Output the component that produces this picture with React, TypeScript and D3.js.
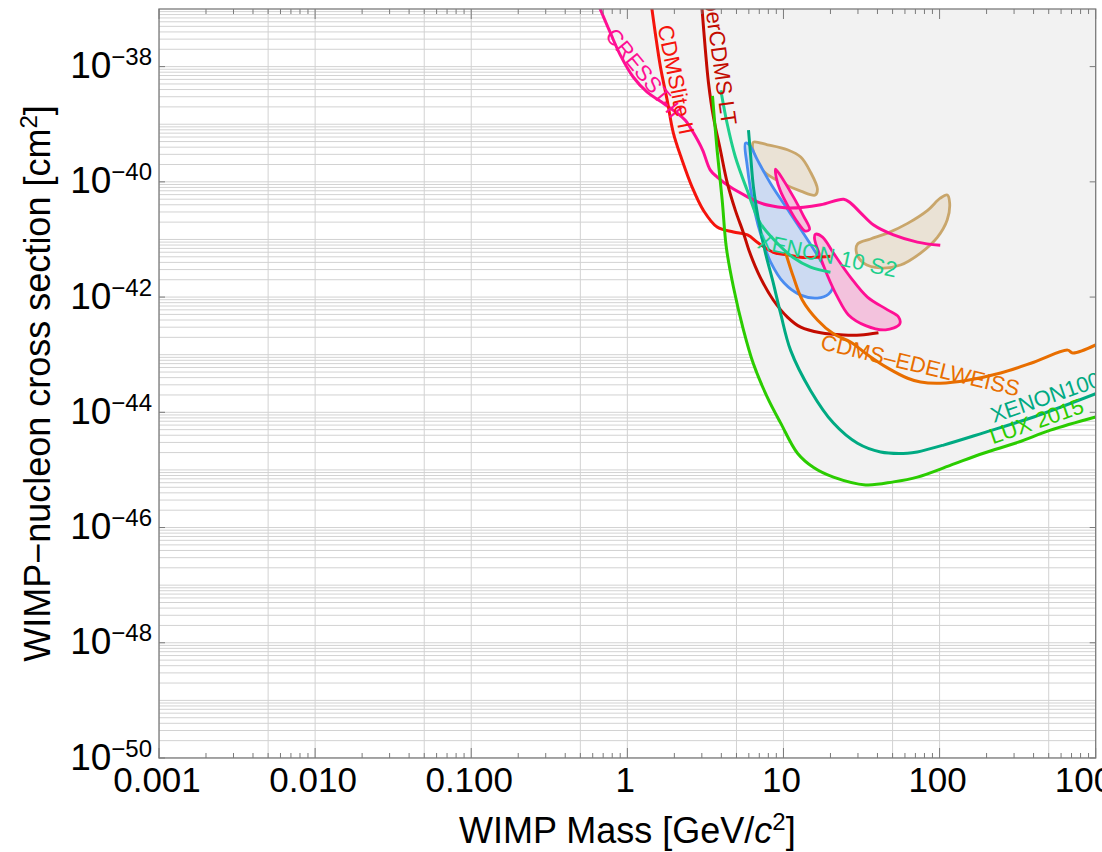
import React from 'react'
import * as d3 from 'd3'

type Pt = [number, number] // [WIMP mass GeV, cross section cm^2]

// exclusion limits
const cresst: Pt[] = [[0.66, 1.1e-37], [0.78, 3.8e-38], [0.9, 1.6e-38], [1.09, 6.6e-39], [1.34, 3.6e-39], [1.63, 2.5e-39], [2.06, 1.6e-39], [2.35, 1.17e-39], [2.65, 7.1e-40], [3.03, 3.6e-40], [3.4, 1.6e-40], [3.78, 1.2e-40], [4.57, 8.1e-41], [5.88, 5.5e-41], [7.1, 4.3e-41], [8.5, 3.8e-41], [11.1, 3.5e-41], [17.3, 4.0e-41], [24.3, 5.0e-41], [26.9, 4.3e-41], [31.2, 2.9e-41], [37.8, 1.78e-41], [50.7, 1.2e-41], [72, 9e-42], [101, 7.9e-42]]
const cdmslite: Pt[] = [[1.43, 1.1e-37], [1.51, 3.8e-38], [1.63, 9.8e-39], [1.8, 2.6e-39], [1.97, 7.1e-40], [2.24, 2.4e-40], [2.6, 8.1e-41], [3.07, 3.2e-41], [3.76, 1.64e-41], [4.78, 1.35e-41], [5.88, 1.2e-41], [6.9, 8.7e-42], [8.6, 6.0e-42], [10.6, 5.4e-42], [12.9, 4.9e-42], [15.6, 4.9e-42], [20, 5.1e-42]]
const superCdms: Pt[] = [[3.0, 1.1e-37], [3.16, 1.95e-38], [3.31, 5.2e-39], [3.56, 1.33e-39], [3.94, 3.6e-40], [4.37, 9.5e-41], [4.92, 3.2e-41], [5.54, 1.3e-41], [6.1, 5.8e-42], [7.1, 2.2e-42], [8.6, 8.9e-43], [10.6, 4.5e-43], [12.9, 3.0e-43], [17.3, 2.4e-43], [24.3, 2.2e-43], [31.2, 2.2e-43], [40.6, 2.4e-43]]
const lux2015: Pt[] = [[3.51, 3.1e-39], [3.76, 3.5e-40], [4.05, 4.8e-41], [4.31, 7.1e-42], [4.78, 1.5e-42], [5.54, 2.7e-43], [6.4, 7.1e-44], [7.9, 1.8e-44], [9.6, 6.5e-45], [12.3, 1.95e-45], [15.6, 1.1e-45], [20.9, 7.5e-46], [33.6, 5.5e-46], [50.7, 6.2e-46], [72, 7.5e-46], [117, 1.2e-45], [191, 1.95e-45], [316, 3.0e-45], [513, 4.9e-45], [1000, 8.3e-45]]
const xenon100: Pt[] = [[5.97, 7.9e-40], [6.14, 3.2e-40], [6.42, 8.1e-41], [6.92, 2.2e-41], [7.67, 5.8e-42], [8.5, 2.0e-42], [9.57, 5.3e-43], [11.1, 1.2e-43], [14.9, 2.4e-44], [20.9, 6.5e-45], [29.8, 2.9e-45], [41.9, 2.05e-45], [62.4, 1.95e-45], [72, 2.05e-45], [106, 2.7e-45], [191, 4.4e-45], [401, 8.3e-45], [1000, 2.1e-44]]
const xenon10: Pt[] = [[3.97, 3.9e-39], [4.35, 1.05e-39], [4.92, 2.7e-40], [5.85, 7.2e-41], [7.12, 1.9e-41], [9.1, 8.7e-42], [11.6, 4.8e-42], [14.9, 3.3e-42], [20, 2.7e-42]]
const cdmsEdelweiss: Pt[] = [[10.3, 6.0e-42], [11.6, 2.2e-42], [13.2, 8.9e-43], [16.5, 4.0e-43], [20.9, 2.3e-43], [26.9, 1.66e-43], [34.5, 1.0e-43], [46.4, 5.9e-44], [62.4, 3.9e-44], [75.5, 3.35e-44], [101, 3.2e-44], [151, 3.6e-44], [246, 4.8e-44], [401, 7.4e-44], [661, 1.2e-43], [713, 1.07e-43], [1000, 1.48e-43]]

// signal regions (closed contours)
const cdmsSi: Pt[] = [[5.71, 4.7e-40], [5.85, 1.95e-40], [6.52, 3.2e-41], [7.33, 9.8e-42], [8.26, 4.1e-42], [10.1, 1.75e-42], [12.9, 1.08e-42], [16.5, 9.6e-43], [19.4, 1.12e-42], [20.9, 1.7e-42], [18.0, 3.6e-42], [14.3, 9.8e-42], [10.9, 3.0e-41], [8.4, 8.7e-41], [6.81, 2.4e-40], [6.05, 4.4e-40]]
const tanLow: Pt[] = [[6.42, 4.9e-40], [7.89, 4.4e-40], [10.6, 3.6e-40], [12.9, 2.7e-40], [14.9, 1.48e-40], [16.5, 7.5e-41], [16.0, 5.9e-41], [12.9, 6.9e-41], [9.86, 9.5e-41], [7.55, 1.48e-40], [6.62, 2.6e-40], [6.33, 4.2e-40]]
const tanHigh: Pt[] = [[29.8, 8.3e-42], [36.1, 1.02e-41], [46.4, 1.29e-41], [62.4, 1.9e-41], [83.8, 3.2e-41], [101, 5.2e-41], [112, 5.9e-41], [116, 4.3e-41], [112, 2.2e-41], [97, 1.1e-41], [75.5, 5.8e-42], [56.2, 3.6e-42], [41.9, 3.2e-42], [32.6, 3.9e-42], [29.4, 5.8e-42]]
const pinkLow: Pt[] = [[8.89, 1.66e-40], [10, 1.07e-40], [11.8, 5.0e-41], [13.4, 2.6e-41], [14.7, 1.5e-41], [13.8, 1.4e-41], [12.3, 2.0e-41], [10.8, 3.6e-41], [9.57, 6.9e-41], [9.0, 1.17e-40]]
const pinkHigh: Pt[] = [[16.0, 1.23e-41], [17.8, 1.1e-41], [20.9, 5.8e-42], [26.9, 2.2e-42], [34.5, 1.0e-42], [46.4, 6.0e-43], [54.6, 4.5e-43], [55.5, 3.4e-43], [45.1, 2.7e-43], [33.6, 3.2e-43], [26.1, 4.9e-43], [22.2, 1.0e-42], [19.1, 2.4e-42], [16.7, 6.3e-42], [15.8, 1.05e-41]]

const xTickLabels = ['0.001', '0.010', '0.100', '1', '10', '100', '1000']
const yTickExponents = [-50, -48, -46, -44, -42, -40, -38]

const limits = [
  { data: cresst, color: '#ff0f94' },
  { data: cdmslite, color: '#f5140c' },
  { data: superCdms, color: '#c30b00' },
  { data: cdmsEdelweiss, color: '#e86e00' },
  { data: xenon10, color: '#1ecf8c' },
  { data: xenon100, color: '#00aa82' },
  { data: lux2015, color: '#2bcc00' },
]

const regions = [
  { data: tanLow, fill: '#eae2d5', stroke: '#c9a66b' },
  { data: tanHigh, fill: '#eae2d5', stroke: '#c9a66b' },
  { data: cdmsSi, fill: '#ccdaf2', stroke: '#4a8cf0' },
  { data: pinkLow, fill: '#f3c2dd', stroke: '#ff0f94' },
  { data: pinkHigh, fill: '#f3c2dd', stroke: '#ff0f94' },
]

const labels = [
  { text: 'CRESST-II', color: '#ff0f94', at: [0.71, 3.4e-38], angle: 51 },
  { text: 'CDMSlite II', color: '#f5140c', at: [1.56, 4.9e-38], angle: 78.5 },
  { text: 'SuperCDMS LT', color: '#c30b00', at: [2.94, 4.1e-37], angle: 82 },
  { text: 'XENON 10 S2', color: '#1ecf8c', at: [6.71, 7.1e-42], angle: 12 },
  { text: 'CDMS\u2013EDELWEISS', color: '#e86e00', at: [17.0, 1.26e-43], angle: 13.5 },
  { text: 'XENON100', color: '#00aa82', at: [222, 6.5e-45], angle: -19 },
  { text: 'LUX 2015', color: '#2bcc00', at: [219, 2.8e-45], angle: -19 },
]

const W = 1102
const H = 852
const left = 159, right = 1095.7, top = 9, bottom = 758
const font = '"Liberation Sans", Arial, Helvetica, sans-serif'

export default function App() {
  const x = d3.scaleLog().domain([0.001, 1000]).range([left, right])
  const y = d3.scaleLog().domain([1e-50, 1e-37]).range([bottom, top])

  const line = d3.line<Pt>().x(d => x(d[0])).y(d => y(d[1])).curve(d3.curveCatmullRom.alpha(0.5))
  const above = d3.area<Pt>().x(d => x(d[0])).y0(top - 5).y1(d => y(d[1])).curve(d3.curveCatmullRom.alpha(0.5))
  const closed = d3.line<Pt>().x(d => x(d[0])).y(d => y(d[1])).curve(d3.curveCatmullRomClosed.alpha(0.5))

  const xGrid: number[] = []
  const xTicks: { v: number; major: boolean }[] = []
  d3.range(-3, 3).forEach(e => {
    for (let k = 1; k <= 9; k++) {
      const v = k * Math.pow(10, e)
      xTicks.push({ v, major: k === 1 })
      if (k === 1 || k === 5) xGrid.push(v)
    }
  })
  xTicks.push({ v: 1000, major: true })

  const yGrid: number[] = []
  d3.range(-50, -37).forEach(e => {
    for (let k = 1; k <= 9; k++) yGrid.push(k * Math.pow(10, e))
  })

  return (
    <svg width={W} height={H} style={{ position: 'fixed', left: 0, top: 0, background: '#fff' }} fontFamily={font}>
      <defs>
        <clipPath id="plotClip">
          <rect x={left} y={top} width={right - left} height={bottom - top} />
        </clipPath>
      </defs>

      <g clipPath="url(#plotClip)">
        {/* grid */}
        {yGrid.map((v, i) => (
          <line key={'yg' + i} x1={left} x2={right} y1={y(v)} y2={y(v)} stroke="#d2d2d2" strokeWidth={1} />
        ))}
        {xGrid.map((v, i) => (
          <line key={'xg' + i} x1={x(v)} x2={x(v)} y1={top} y2={bottom} stroke="#d2d2d2" strokeWidth={1} />
        ))}

        {/* excluded region */}
        {limits.map((l, i) => (
          <path key={'ex' + i} d={above(l.data) || ''} fill="#f2f2f2" stroke="none" />
        ))}

        {regions.map((r, i) => (
          <path key={'rg' + i} d={closed(r.data) || ''} fill={r.fill} stroke={r.stroke} strokeWidth={2.8} />
        ))}

        {limits.map((l, i) => (
          <path key={'ln' + i} d={line(l.data) || ''} fill="none" stroke={l.color} strokeWidth={3} strokeLinejoin="round" />
        ))}

        {labels.map((lb, i) => (
          <text key={'lb' + i} transform={`translate(${x(lb.at[0])},${y(lb.at[1])}) rotate(${lb.angle})`}
            fill={lb.color} fontSize={22}>{lb.text}</text>
        ))}
      </g>

      {/* frame */}
      <rect x={left} y={top} width={right - left} height={bottom - top} fill="none" stroke="#7a7a7a" strokeWidth={1.3} />

      {/* x ticks bottom + top */}
      {xTicks.map((t, i) => {
        const len = t.major ? 10 : 5
        return (
          <g key={'xt' + i} stroke="#7a7a7a" strokeWidth={1}>
            <line x1={x(t.v)} x2={x(t.v)} y1={bottom} y2={bottom - len} />
            <line x1={x(t.v)} x2={x(t.v)} y1={top} y2={top + len} />
          </g>
        )
      })}
      {/* y ticks left + right */}
      {yTickExponents.map(e => (
        <g key={'yt' + e} stroke="#7a7a7a" strokeWidth={1}>
          <line x1={left} x2={left + 6} y1={y(Math.pow(10, e))} y2={y(Math.pow(10, e))} />
          <line x1={right} x2={right - 6} y1={y(Math.pow(10, e))} y2={y(Math.pow(10, e))} />
        </g>
      ))}

      {/* tick labels */}
      {xTickLabels.map(s => (
        <text key={'xl' + s} x={x(+s) - 2} y={792} textAnchor="middle" fontSize={35} fill="#000">{s}</text>
      ))}
      {yTickExponents.map(e => (
        <text key={'yl' + e} x={152} y={y(Math.pow(10, e)) + 11.5} textAnchor="end" fontSize={37} fill="#000">
          10<tspan dy={-13} fontSize={24}>{'\u2212' + -e}</tspan>
        </text>
      ))}

      {/* axis titles */}
      <text x={(left + right) / 2} y={843} textAnchor="middle" fontSize={36} fill="#000">
        WIMP Mass [GeV/<tspan fontStyle="italic">c</tspan><tspan dy={-13} fontSize={24}>2</tspan><tspan dy={13}>]</tspan>
      </text>
      <text transform={`translate(50,${(top + bottom) / 2}) rotate(-90)`} textAnchor="middle" fontSize={36} fill="#000">
        WIMP{'\u2212'}nucleon cross section [cm<tspan dy={-13} fontSize={24}>2</tspan><tspan dy={13}>]</tspan>
      </text>
    </svg>
  )
}
